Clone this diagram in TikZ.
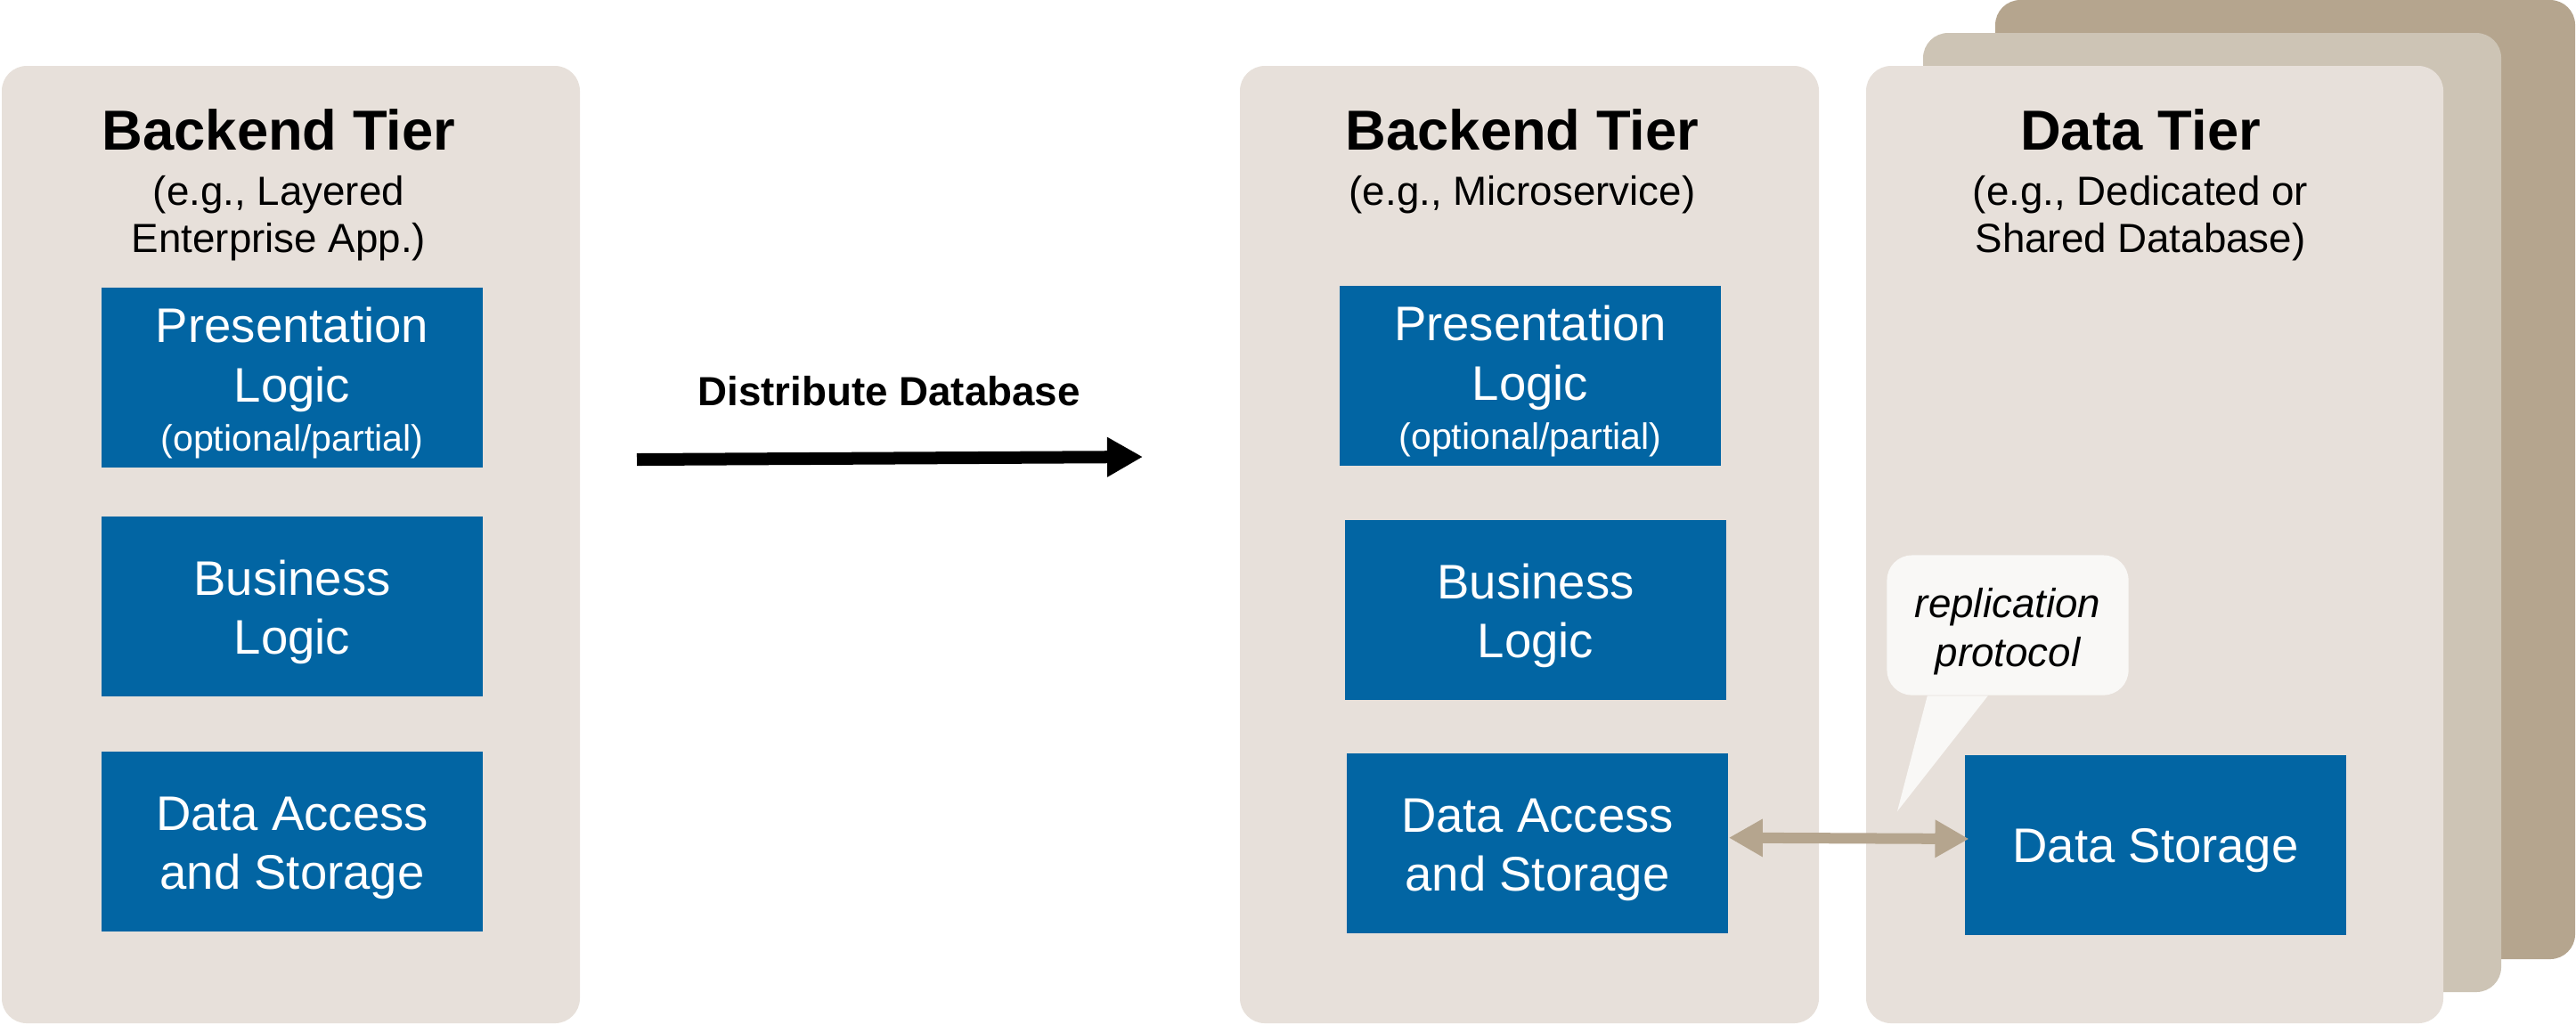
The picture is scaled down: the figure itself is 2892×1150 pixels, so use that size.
\documentclass[tikz,border=0pt]{standalone}
\usepackage{fontspec}
\setmainfont{Liberation Sans}
\usetikzlibrary{arrows.meta}

\definecolor{panelcol}{HTML}{E7E0DA}
\definecolor{backone}{HTML}{CDC4B5}
\definecolor{backtwo}{HTML}{B5A58E}
\definecolor{boxblue}{HTML}{0265A3}
\definecolor{bubblecol}{HTML}{F9F8F6}

\newcommand{\titlesize}{\fontsize{18}{21}\selectfont}
\newcommand{\bodysize}{\fontsize{15.5}{18.9}\selectfont}
\newcommand{\subsize}{\fontsize{13}{15.2}\selectfont}
\newcommand{\tinysize}{\fontsize{11.7}{14}\selectfont}
\newcommand{\lift}[1]{\rule{0pt}{#1}}

\tikzset{
  panel/.style={rounded corners=0.28cm},
  tiertitle/.style={font=\titlesize\bfseries, inner sep=0},
  tiersub/.style={font=\subsize, align=center, inner sep=0},
  bluebox/.style={fill=boxblue, text=white, font=\bodysize, align=center, inner sep=0,
    minimum width=4.28cm, minimum height=2.01cm},
  bubble/.style={fill=bubblecol, rounded corners=0.28cm, font=\subsize\itshape, align=center,
    inner sep=0, minimum width=2.71cm, minimum height=1.57cm},
  bigarrow/.style={line width=0.14cm, -{Triangle[length=0.4cm,width=0.42cm]}},
  biarrow/.style={draw=backtwo, line width=0.12cm, {Triangle[length=0.38cm,width=0.4cm]}-{Triangle[length=0.38cm,width=0.4cm]}}
}

\begin{document}
\begin{tikzpicture}[x=0.01cm,y=-0.01cm]
  \useasboundingbox (0,0) rectangle (2892,1150);

  % Draw the stacked panels
  \fill[panel,backtwo] (2240,0) rectangle (2891,1077);
  \fill[panel,backone] (2159,37) rectangle (2808,1114);
  \fill[panel,panelcol] (2095,74) rectangle (2743,1149);
  \fill[panel,panelcol] (1392,74) rectangle (2042,1149);
  \fill[panel,panelcol] (2,74) rectangle (651,1149);

  % Left tier
  \node[tiertitle] (titlea) at (313,146) {Backend Tier};
  \node[tiersub] (suba) at (313,245) {(e.g., Layered\\Enterprise App.)};
  \node[bluebox] (presa) at (328,424) {\lift{14.8pt}Presentation\\Logic\\[-3pt]{\tinysize (optional/partial)}};
  \node[bluebox] (busa) at (328,681) {\lift{14.8pt}Business\\Logic};
  \node[bluebox] (accessa) at (328,945) {\lift{14.8pt}Data Access\\and Storage};

  % Middle tier
  \node[tiertitle] (titleb) at (1709,146) {Backend Tier};
  \node[tiersub] (subb) at (1709,219) {(e.g., Microservice)};
  \node[bluebox] (presb) at (1718,422) {\lift{14.8pt}Presentation\\Logic\\[-3pt]{\tinysize (optional/partial)}};
  \node[bluebox] (busb) at (1724,685) {\lift{14.8pt}Business\\Logic};
  \node[bluebox] (accessb) at (1726,947) {\lift{14.8pt}Data Access\\and Storage};

  % Data tier
  \node[tiertitle] (titlec) at (2403,146) {Data Tier};
  \node[tiersub] (subc) at (2403,245) {(e.g., Dedicated or\\Shared Database)};
  \node[bluebox] (storage) at (2420,949) {\lift{14.5pt}Data Storage};

  % Speech bubble
  \node[bubble] (note) at (2254,702) {\lift{13.4pt}replication\\[0.3pt]protocol};
  \coordinate (tip) at (2130,911);
  \fill[bubblecol] ([xshift=0.46cm]note.south west) -- (tip) -- ([xshift=1.14cm]note.south west) -- cycle;

  % Arrows
  \node[font=\subsize\bfseries, inner sep=0] (move) at (998,439) {Distribute Database};
  \coordinate (movea) at (715,516);
  \coordinate (moveb) at (1283,513);
  \draw[bigarrow] (movea) -- (moveb);
  \draw[biarrow] ([yshift=1.8pt]accessb.east) -- ([xshift=1.5pt,yshift=2pt]storage.west);

\end{tikzpicture}
\end{document}
